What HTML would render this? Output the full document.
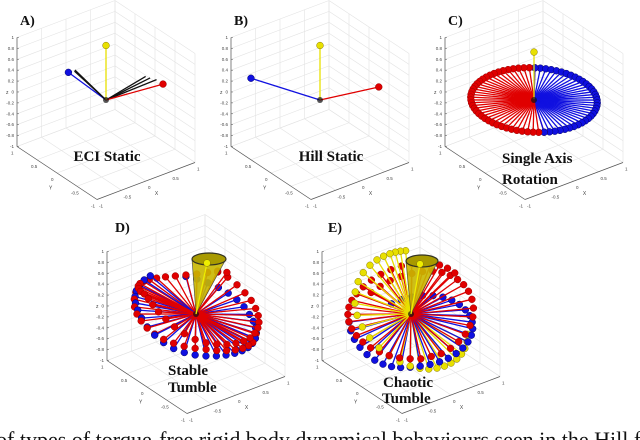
<!DOCTYPE html>
<html><head><meta charset="utf-8"><style>
body{margin:0;background:#fff;width:640px;height:440px;overflow:hidden}
svg{display:block}
</style></head><body>
<svg id="fig" width="640" height="440" viewBox="0 0 640 440" xmlns="http://www.w3.org/2000/svg" font-family="'Liberation Serif', serif">
<text x="-4" y="447" font-size="22" fill="#111">of types of torque-free rigid body dynamical behaviours seen in the Hill f</text>
</svg>
<script>
// ---- data ----
const panelNames = ['A)','B)','C)','D)','E)'];
const panelTitles = [['ECI Static'],['Hill Static'],['Single Axis','Rotation'],['Stable','Tumble'],['Chaotic','Tumble']];
const zTicks = [1,0.8,0.6,0.4,0.2,0,-0.2,-0.4,-0.6,-0.8,-1];
const xyTicks = [-1,-0.5,0,0.5,1];
const aRed = [[1.0,-0.2,0.05]];
const aBlue = [[0.0,0.94,0.05]];
const aBlack = [[0.95,-0.1,0.1],[0.9,0.0,0.1],[0.1,0.9,0.08],[0.05,0.85,0.1],[0.85,0.05,0.12]];
const aYellow = [[0,0,1]];
const bRed = [[1.02,-0.22,0]];
const bBlue = [[-0.47,1.15,0]];
const bYellow = [[0,0,1]];
const cRedAz = [50,55,60,65,70,75,80,85,90,95,100,105,110,115,120,125,130,135,140,145,150,155,160,165,170,175,180,185,190,195,200,205,210,215,220,225,230,235,240];
const cBlueAz = [240,245,250,255,260,265,270,275,280,285,290,295,300,305,310,315,320,325,330,335,340,345,350,355,0,5,10,15,20,25,30,35,40,45,50];
const dRedAz = [20,30,40,50,60,70,80,90,100,110,120,130,140,150,160,170,180,190,200,210,220,230,240,250,260,270,280,290,300,310,320,330,340,350,360,370,380,390];
const dRedZ = [0.3,0.25,0.2,0.15,0.13,0.13,0.15,0.18,0.22,0.27,0.32,0.37,0.42,0.46,0.5,0.5,0.47,0.42,0.36,0.28,0.2,0.12,0.06,0.02,-0.02,-0.05,-0.08,-0.1,-0.1,-0.1,-0.1,-0.08,-0.05,0.0,0.05,0.12,0.2,0.27];
const dRed2Az = [130,140,150,160,170,180,190,200,210,220,230,240,250,260,270,280,290,300,310,320];
const dRed2Z = [0.25,0.22,0.18,0.15,0.12,0.08,0.05,0.02,0,-0.02,-0.04,-0.06,-0.1,-0.14,-0.18,-0.22,-0.25,-0.28,-0.3,-0.32];
const dBlueAz = [100,110,120,130,140,150,160,170,180,190,200,210,220,230,240,250,260,270,280,290,300,310,320,330,340,350,360,370,380,390,400,410,420];
const dBlueZ = [0.3,0.3,0.29,0.28,0.27,0.25,0.22,0.17,0.1,0.03,-0.04,-0.1,-0.14,-0.17,-0.19,-0.21,-0.23,-0.25,-0.27,-0.29,-0.3,-0.3,-0.3,-0.3,-0.28,-0.25,-0.2,-0.15,-0.1,-0.05,0.0,0.05,0.1];
const eRedAz = [0,10,20,30,40,50,60,70,80,90,100,110,120,130,140,150,160,170,180,190,200,210,220,230,240,250,260,270,280,290,300,310,320,330,340,350,360,370,380,390,400,410,420,430,440,450];
const eRedZ = [0.45,0.47,0.47,0.45,0.42,0.38,0.32,0.26,0.2,0.14,0.08,0.03,0,-0.03,-0.06,-0.09,-0.12,-0.15,-0.18,-0.21,-0.22,-0.24,-0.25,-0.25,-0.25,-0.22,-0.2,-0.15,-0.09,-0.03,0.04,0.1,0.16,0.22,0.27,0.3,0.31,0.31,0.3,0.27,0.22,0.16,0.1,0.04,-0.03,-0.09];
const eYellowAz = [60,70,80,90,100,110,120,130,140,150,160,170,180,190,200,210,220,230,240,250,260,270,280,290,300,310,320,330];
const eYellowZ = [0.85,0.86,0.86,0.85,0.82,0.78,0.72,0.64,0.55,0.45,0.34,0.22,0.1,-0.02,-0.14,-0.25,-0.34,-0.42,-0.48,-0.52,-0.54,-0.55,-0.55,-0.54,-0.52,-0.5,-0.46,-0.42];
const eBlueAz = [140,150,160,170,180,190,200,210,220,230,240,250,260,270,280,290,300,310,320,330,340,350,360,370,380,390,400,410,420,430];
const eBlueZ = [-0.2,-0.26,-0.32,-0.38,-0.44,-0.48,-0.5,-0.5,-0.48,-0.45,-0.42,-0.4,-0.38,-0.36,-0.33,-0.3,-0.27,-0.24,-0.22,-0.2,-0.18,-0.17,-0.16,-0.16,-0.17,-0.19,-0.22,-0.26,-0.3,-0.35];

// ---- drawing ----
const NS='http://www.w3.org/2000/svg';
const svg=document.getElementById('fig');
const centers=[[106,100],[320,100],[534,100],[196,314],[411,314]];
const labelPos=[[20,25],[234,25],[448,25],[115,232],[328,232]];
const titlePos=[[[107,161,'middle']],[[331,161,'middle']],[[502,163,'start'],[502,184,'start']],[[168,375,'start'],[168,392,'start']],[[383,387,'start'],[382,403,'start']]];
const XU=[49,-18.5], YU=[-40,-26.5], ZU=54.5;
function mk(tag,attrs,parent){const e=document.createElementNS(NS,tag);for(const k in attrs)e.setAttribute(k,attrs[k]);(parent||svg).appendChild(e);return e;}
function proj(p,x,y,z){const c=centers[p];return [c[0]+XU[0]*x+YU[0]*y, c[1]+XU[1]*x+YU[1]*y-ZU*z];}
function sph(az,z){const r=Math.sqrt(Math.max(0,1-z*z));const t=az*Math.PI/180;return [r*Math.cos(t),r*Math.sin(t),z];}

function drawBox(p,g){
  const L=(a,b,col,w)=>{const A=proj(p,...a),B=proj(p,...b);mk('line',{x1:A[0],y1:A[1],x2:B[0],y2:B[1],stroke:col,'stroke-width':w||0.6},g);};
  const grid='#e3e3e3';
  xyTicks.forEach(t=>{L([t,-1,-1],[t,1,-1],grid);L([-1,t,-1],[1,t,-1],grid);});
  zTicks.forEach(z=>{L([-1,1,z],[1,1,z],grid);L([1,1,z],[1,-1,z],grid);});
  xyTicks.forEach(t=>{L([t,1,-1],[t,1,1],grid);L([1,t,-1],[1,t,1],grid);});
  const ax='#555';
  L([-1,1,-1],[-1,1,1],ax,0.7);
  L([-1,-1,-1],[1,-1,-1],ax,0.7);
  L([-1,-1,-1],[-1,1,-1],ax,0.7);
  zTicks.forEach(z=>{const A=proj(p,-1,1,z);mk('line',{x1:A[0],y1:A[1],x2:A[0]+2,y2:A[1],stroke:ax,'stroke-width':0.5},g);
    const t=mk('text',{x:A[0]-3,y:A[1]+1.5,'font-size':4.5,'text-anchor':'end',fill:'#444','font-family':'Liberation Sans, sans-serif'},g);t.textContent=z;});
  xyTicks.forEach(v=>{let A=proj(p,v,-1,-1);let t=mk('text',{x:A[0]+2,y:A[1]+8,'font-size':4.5,fill:'#444','font-family':'Liberation Sans, sans-serif'},g);t.textContent=v;
    A=proj(p,-1,v,-1);t=mk('text',{x:A[0]-6,y:A[1]+8,'font-size':4.5,fill:'#444','font-family':'Liberation Sans, sans-serif'},g);t.textContent=v;});
  let A=proj(p,-1,1,0);let t=mk('text',{x:A[0]-11,y:A[1]+2,'font-size':5,fill:'#444','font-family':'Liberation Sans, sans-serif'},g);t.textContent='z';
  A=proj(p,0.1,-1,-1);t=mk('text',{x:A[0]+4,y:A[1]+16,'font-size':5,fill:'#444','font-family':'Liberation Sans, sans-serif'},g);t.textContent='X';
  A=proj(p,-1,-0.1,-1);t=mk('text',{x:A[0]-12,y:A[1]+14,'font-size':5,fill:'#444','font-family':'Liberation Sans, sans-serif'},g);t.textContent='Y';
}
const COL={red:['#e00000','#900'],blue:['#1010e0','#006'],yellow:['#e8e000','#887800'],black:['#111','#000']};
function drawVecs(p,g,items){
  items.sort((a,b)=>(b.v[0]+b.v[1])-(a.v[0]+a.v[1]));
  const c=proj(p,0,0,0);
  items.forEach(it=>{
    const e=proj(p,...it.v);const cc=COL[it.c];
    const ln=mk('line',{x1:c[0],y1:c[1],x2:e[0],y2:e[1],stroke:cc[0],'stroke-width':1.3},g);
    
    
    if(it.dot!==false){const d=mk('circle',{cx:e[0],cy:e[1],r:3.4,fill:cc[0],stroke:cc[1],'stroke-width':0.5},g);
      
      }
  });
  mk('circle',{cx:c[0],cy:c[1],r:3,fill:'#111',opacity:0.7},g);
}
function cone(p,g,tip,rx,ry){const c=proj(p,0,0,0);
  mk('path',{d:`M${c[0]},${c[1]} L${tip[0]-rx},${tip[1]} A${rx},${ry} 0 0 0 ${tip[0]+rx},${tip[1]} Z`,fill:'#c9b800',stroke:'#443',"stroke-width":0.7,opacity:0.9},g);
  mk('ellipse',{cx:tip[0],cy:tip[1],rx:rx,ry:ry,fill:'#a89a00',stroke:'#332','stroke-width':1.2},g);}

for(let p=0;p<5;p++){
  const g=mk('g',{});
  
  
  drawBox(p,g);
  const items=[];
  const add=(arr,c)=>arr.forEach(v=>items.push({v:v,c:c}));
  if(p===0){add(aBlack,'black');items.forEach(i=>i.dot=false);add(aRed,'red');add(aBlue,'blue');add(aYellow,'yellow');}
  if(p===1){add(bRed,'red');add(bBlue,'blue');add(bYellow,'yellow');}
  if(p===2){cRedAz.forEach(a=>items.push({v:sph(a,0),c:'red'}));cBlueAz.forEach(a=>items.push({v:sph(a,0),c:'blue'}));items.push({v:[0,0,0.88],c:'yellow'});}
  if(p===3){dRedAz.forEach((a,i)=>items.push({v:sph(a,dRedZ[i]),c:'red'}));dRed2Az.forEach((a,i)=>items.push({v:sph(a,dRed2Z[i]),c:'red'}));
    dBlueAz.forEach((a,i)=>items.push({v:sph(a,dBlueZ[i]),c:'blue'}));}
  if(p===4){eRedAz.forEach((a,i)=>items.push({v:sph(a,eRedZ[i]),c:'red'}));eYellowAz.forEach((a,i)=>items.push({v:sph(a,eYellowZ[i]),c:'yellow'}));
    eBlueAz.forEach((a,i)=>items.push({v:sph(a,eBlueZ[i]),c:'blue'}));}
  drawVecs(p,g,items);
  if(p===3){cone(p,g,[209,259],17,6);const c=proj(p,0,0,0);mk('line',{x1:c[0],y1:c[1],x2:207,y2:263,stroke:'#ee0','stroke-width':1.3},g);mk('circle',{cx:207,cy:263,r:3.4,fill:'#ee0',stroke:'#870','stroke-width':0.5},g);}
  if(p===4){cone(p,g,[422,261],16,6);const c=proj(p,0,0,0);mk('line',{x1:c[0],y1:c[1],x2:420,y2:264,stroke:'#ee0','stroke-width':1.3},g);mk('circle',{cx:420,cy:264,r:3.4,fill:'#ee0',stroke:'#870','stroke-width':0.5},g);}
  const lp=labelPos[p];
  const lb=mk('text',{x:lp[0],y:lp[1],'font-size':14,'font-weight':'bold',fill:'#111'});
  
  
  lb.textContent=panelNames[p];
  panelTitles[p].forEach((s,i)=>{const tp=titlePos[p][i];
    const t=mk('text',{x:tp[0],y:tp[1],'font-size':15,'font-weight':'bold','text-anchor':tp[2],fill:'#111'});
    
    
    t.textContent=s;});
}
</script>
</body></html>
